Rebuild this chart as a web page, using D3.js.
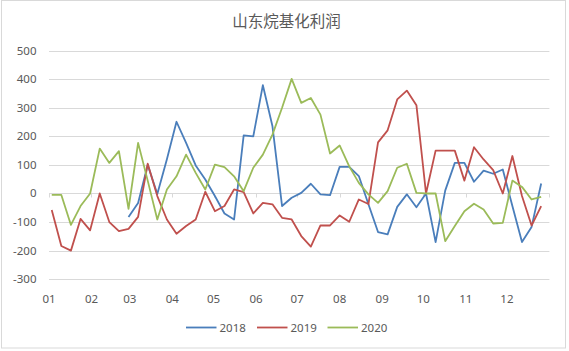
<!DOCTYPE html>
<html lang="zh">
<head>
<meta charset="UTF-8"/>
<title>山东烷基化利润</title>
<script src="https://d3js.org/d3.v7.min.js"></script>
<style>
	body { margin: 0; background: #fff; }
	text { font-family: "Noto Sans", "Liberation Sans", sans-serif; }
</style>
</head>
<body>
<script>
	// weekly values, one entry per week starting from the first week of January
	var series2018 = [null, null, null, null, null, null, null, null,
		-82, -33, 100, -2, 120, 251, 177, 98, 49, -9,
		-70, -91, 203, 200, 379, 235, -44, -15, 2, 34,
		-3, -6, 93, 93, 61, -38, -135, -143, -47, -3,
		-48, 0, -170, 10, 107, 107, 41, 80, 69, 84,
		-44, -170, -117, 35];
	var series2019 = [-58, -184, -200, -89, -129, 0, -100, -132, -124, -82,
		104, -9, -91, -141, -114, -91, 6, -62, -44, 14,
		5, -70, -33, -38, -85, -91, -149, -186, -112, -112,
		-77, -99, -21, -37, 179, 221, 329, 360, 309, 0,
		150, 150, 150, 45, 162, 119, 82, 0, 131, -9,
		-112, -44];
	var series2020 = [-5, -5, -110, -44, 0, 157, 107, 148, -54, 177,
		45, -91, 14, 60, 136, 72, 14, 101, 92, 60,
		8, 90, 136, 206, 300, 401, 317, 334, 276, 140,
		168, 95, 37, -3, -33, 8, 90, 104, 2, 0,
		0, -167, -114, -62, -36, -56, -105, -103, 45, 23,
		-21, -12];
	var seriesNames = ["2018", "2019", "2020"];
	var seriesColors = ["#4A7EBB", "#C0504D", "#9BBB59"];
	var yTicks = [-300, -200, -100, 0, 100, 200, 300, 400, 500];
	var firstWeek = new Date(2018, 0, 3);

	var w = 569;
	var h = 351;

	var weekDates = series2019.map(function(d, i) {
		return d3.timeDay.offset(firstWeek, 7 * i);
	});

	var xScale = d3.scaleTime()
		.domain([new Date(2018, 0, 1), new Date(2019, 0, 1)])
		.range([49, 549.4]);

	var yScale = d3.scaleLinear()
		.domain([-300, 500])
		.range([279.2, 50.6]);

	var svg = d3.select("body")
		.append("svg")
		.attr("width", w)
		.attr("height", h);

	// outer border
	svg.append("rect")
		.attr("x", 1.5)
		.attr("y", 0.5)
		.attr("width", 564)
		.attr("height", 347.5)
		.attr("fill", "#fff")
		.attr("stroke", "#d9d9d9");

	svg.append("text")
		.attr("x", 286.5)
		.attr("y", 27)
		.attr("text-anchor", "middle")
		.attr("fill", "#595959")
		.style("font-family", "'Noto Sans CJK SC', sans-serif")
		.style("font-size", "15.5px")
		.text("山东烷基化利润");

	// gridlines
	svg.selectAll("line.grid")
		.data(yTicks)
		.enter()
		.append("line")
		.attr("class", "grid")
		.attr("x1", xScale.range()[0])
		.attr("x2", xScale.range()[1])
		.attr("y1", function(d) { return Math.round(yScale(d)) + 0.5; })
		.attr("y2", function(d) { return Math.round(yScale(d)) + 0.5; })
		.attr("stroke", "#d9d9d9")
		.attr("stroke-width", 1);

	svg.selectAll("text.ylab")
		.data(yTicks)
		.enter()
		.append("text")
		.attr("class", "ylab")
		.attr("x", 36.5)
		.attr("y", function(d) { return yScale(d) + 4; })
		.attr("text-anchor", "end")
		.attr("fill", "#595959")
		.style("font-size", "11.5px")
		.text(function(d) { return d; });

	// ticks on the zero line at month boundaries
	var monthEdges = d3.timeMonth.range(xScale.domain()[0], d3.timeDay.offset(xScale.domain()[1], 1));
	var y0 = Math.round(yScale(0)) + 0.5;
	svg.selectAll("line.tick")
		.data(monthEdges)
		.enter()
		.append("line")
		.attr("class", "tick")
		.attr("x1", function(d) { return Math.round(xScale(d)) + 0.5; })
		.attr("x2", function(d) { return Math.round(xScale(d)) + 0.5; })
		.attr("y1", y0)
		.attr("y2", y0 + 4)
		.attr("stroke", "#d9d9d9");

	svg.selectAll("text.xlab")
		.data(monthEdges.slice(0, 12))
		.enter()
		.append("text")
		.attr("class", "xlab")
		.attr("x", function(d) { return xScale(d); })
		.attr("y", 302.5)
		.attr("text-anchor", "middle")
		.attr("fill", "#595959")
		.style("font-size", "11.5px")
		.text(d3.timeFormat("%m"));

	var line = d3.line()
		.defined(function(d) { return d != null; })
		.x(function(d, i) { return xScale(weekDates[i]); })
		.y(function(d) { return yScale(d); });

	[series2018, series2019, series2020].forEach(function(s, k) {
		svg.append("path")
			.datum(s)
			.attr("d", line)
			.attr("fill", "none")
			.attr("stroke", seriesColors[k])
			.attr("stroke-width", 1.8)
			.attr("stroke-linejoin", "round");
	});

	// legend
	var legendX = [186, 257, 327.5];
	var legend = svg.selectAll("g.legend")
		.data(seriesNames)
		.enter()
		.append("g")
		.attr("class", "legend")
		.attr("transform", function(d, i) { return "translate(" + legendX[i] + ",327.5)"; });

	legend.append("line")
		.attr("x1", 0)
		.attr("x2", 30.5)
		.attr("stroke", function(d, i) { return seriesColors[i]; })
		.attr("stroke-width", 1.8);

	legend.append("text")
		.attr("x", 33.5)
		.attr("y", 4)
		.attr("fill", "#595959")
		.style("font-size", "11.5px")
		.text(function(d) { return d; });
</script>
</body>
</html>
